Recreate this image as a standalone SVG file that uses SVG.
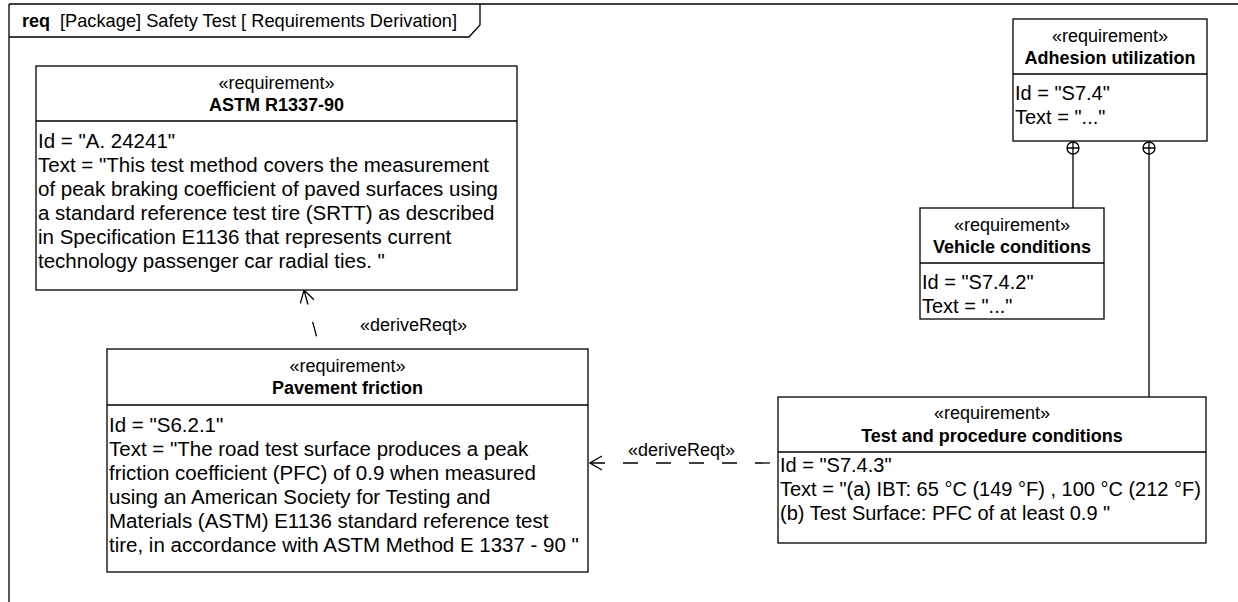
<svg xmlns="http://www.w3.org/2000/svg" width="1238" height="602" viewBox="0 0 1238 602">
<style>
text{font-family:"Liberation Sans",Arial,sans-serif;fill:#000}
.b{font-size:20px}
.bl{font-size:20.5px}
.st{font-size:18px;text-anchor:middle}
.nm{font-size:18px;font-weight:bold;text-anchor:middle}
.box{fill:#fff;stroke:#000;stroke-width:1.3}
.ln{stroke:#000;stroke-width:1.3;fill:none}
.dash{stroke:#000;stroke-width:1.3;fill:none;stroke-dasharray:15 18}
.lbl{font-size:18px}
</style>
<defs>
<marker id="open" markerWidth="16" markerHeight="16" refX="1" refY="8" orient="auto" markerUnits="userSpaceOnUse">
<path d="M13,1 L1,8 L13,15" fill="none" stroke="#000" stroke-width="1.3"/>
</marker>
</defs>
<g id="frame">
<path d="M9,4 H1250 M9,4 V610" class="ln"/>
<path d="M9,37 H469 L480,25 V4" class="ln"/>
<text x="22" y="27" font-size="18" font-weight="bold">req</text>
<text x="60" y="27" font-size="18.5" textLength="397" lengthAdjust="spacingAndGlyphs">[Package] Safety Test [ Requirements Derivation]</text>
</g>
<g id="connectors">
<path d="M1073,154 V208" class="ln"/>
<path d="M1149,154 V397" class="ln"/>
<circle cx="1073" cy="148" r="6" class="box"/>
<path d="M1067,148 H1079 M1073,142 V154" class="ln"/>
<circle cx="1149" cy="148" r="6" class="box"/>
<path d="M1143,148 H1155 M1149,142 V154" class="ln"/>
<path d="M304,290 L320,349" class="dash" marker-start="url(#open)"/>
<path d="M590,463 H778" class="dash" marker-start="url(#open)"/>
<text x="360" y="331" class="lbl">«deriveReqt»</text>
<text x="628" y="456" class="lbl">«deriveReqt»</text>
</g>
<g id="astm">
<rect x="36" y="66" width="481" height="224" class="box"/>
<path d="M36,121 H517" class="ln"/>
<text x="276.5" y="89" class="st">«requirement»</text>
<text x="276.5" y="111" class="nm">ASTM R1337-90</text>
<text class="bl"><tspan x="38" y="148">Id = "A. 24241"</tspan><tspan x="38" y="172">Text = "This test method covers the measurement</tspan><tspan x="38" y="196">of peak braking coefficient of paved surfaces using</tspan><tspan x="38" y="220">a standard reference test tire (SRTT) as described</tspan><tspan x="38" y="244">in Specification E1136 that represents current</tspan><tspan x="38" y="268">technology passenger car radial ties. "</tspan></text>
</g>
<g id="pavement">
<rect x="107" y="349" width="481" height="223" class="box"/>
<path d="M107,405 H588" class="ln"/>
<text x="347.5" y="372" class="st">«requirement»</text>
<text x="347.5" y="394" class="nm">Pavement friction</text>
<text class="bl"><tspan x="109" y="432">Id = "S6.2.1"</tspan><tspan x="109" y="456">Text = "The road test surface produces a peak</tspan><tspan x="109" y="480">friction coefficient (PFC) of 0.9 when measured</tspan><tspan x="109" y="504">using an American Society for Testing and</tspan><tspan x="109" y="528">Materials (ASTM) E1136 standard reference test</tspan><tspan x="109" y="552">tire, in accordance with ASTM Method E 1337 - 90 "</tspan></text>
</g>
<g id="adhesion">
<rect x="1013" y="19" width="194" height="122" class="box"/>
<path d="M1013,74 H1207" class="ln"/>
<text x="1110" y="42" class="st">«requirement»</text>
<text x="1110" y="64" class="nm">Adhesion utilization</text>
<text class="b"><tspan x="1015" y="100">Id = "S7.4"</tspan><tspan x="1015" y="124">Text = "..."</tspan></text>
</g>
<g id="vehicle">
<rect x="920" y="208" width="184" height="111" class="box"/>
<path d="M920,263 H1104" class="ln"/>
<text x="1012" y="231" class="st">«requirement»</text>
<text x="1012" y="253" class="nm">Vehicle conditions</text>
<text class="b"><tspan x="922" y="289">Id = "S7.4.2"</tspan><tspan x="922" y="313">Text = "..."</tspan></text>
</g>
<g id="testproc">
<rect x="778" y="397" width="428" height="146" class="box"/>
<path d="M778,452 H1206" class="ln"/>
<text x="992" y="419" class="st">«requirement»</text>
<text x="992" y="442" class="nm">Test and procedure conditions</text>
<text class="b"><tspan x="780" y="472">Id = "S7.4.3"</tspan><tspan x="780" y="496">Text = "(a) IBT: 65 °C (149 °F) , 100 °C (212 °F)</tspan><tspan x="780" y="520">(b) Test Surface: PFC of at least 0.9 "</tspan></text>
</g>
</svg>
